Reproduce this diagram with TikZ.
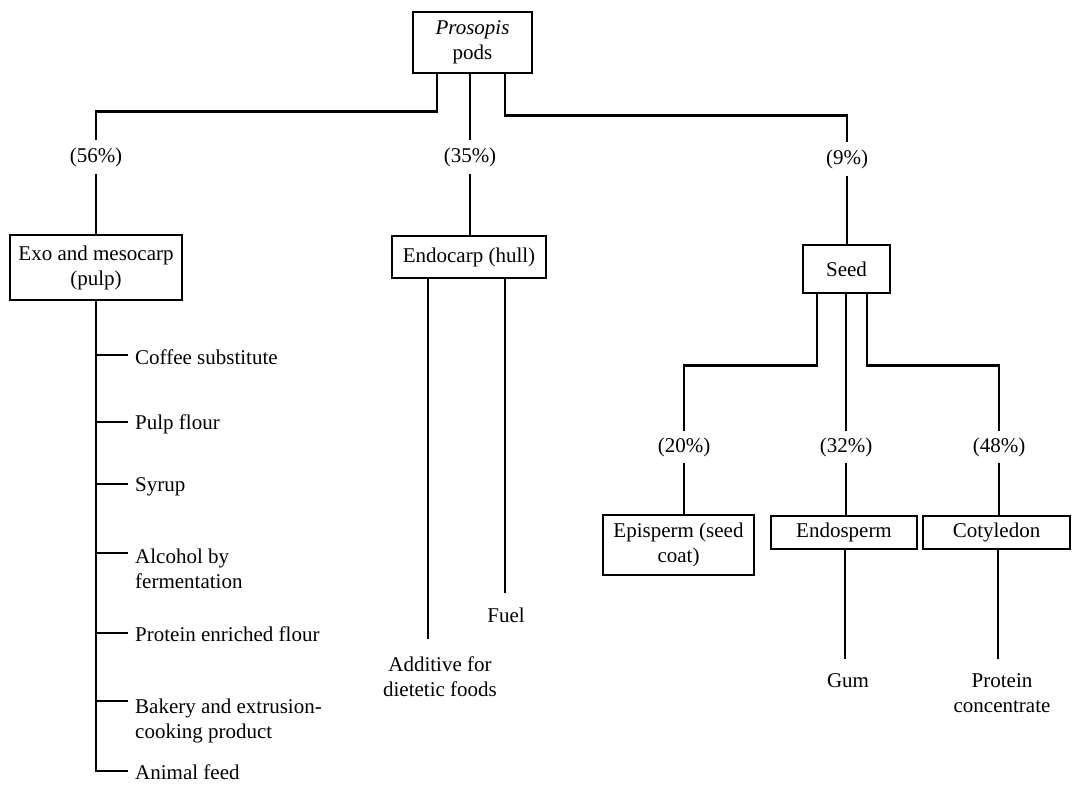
\documentclass[tikz,border=0pt]{standalone}
\usepackage{fontspec}
\setmainfont{Liberation Serif}
\begin{document}
\begin{tikzpicture}[x=1pt,y=-1pt,
  every node/.style={font=\fontsize{21}{25}\selectfont},
  box/.style={draw,line width=2.8pt,inner sep=0pt,align=center},
  link/.style={line width=2.5pt},
  pct/.style={inner xsep=1pt,inner ysep=7pt},
  item/.style={inner sep=0pt,align=left},
  leaf/.style={inner sep=0pt,align=center}]
\useasboundingbox (0,0) rectangle (1072,785);

% boxes
\node[box,minimum width=119pt,minimum height=61pt] (pods) at (472.5,42.5) {\textit{Prosopis}\\pods};
\node[box,minimum width=172pt,minimum height=65pt] (exo) at (96,267.5) {Exo and mesocarp\\(pulp)};
\node[box,minimum width=154pt,minimum height=42pt] (endo) at (469,257) {Endocarp (hull)};
\node[box,minimum width=87pt,minimum height=48pt] (seed) at (846.5,269) {Seed};
\node[box,minimum width=151pt,minimum height=60pt] (epi) at (678.5,545) {Episperm (seed\\coat)};
\node[box,minimum width=146pt,minimum height=33pt] (endosp) at (844,532.5) {Endosperm};
\node[box,minimum width=147pt,minimum height=33pt] (coty) at (996.5,532.5) {Cotyledon};

% percentage labels
\node[pct] (p56) at (96,157) {(56\%)};
\node[pct] (p35) at (470,157) {(35\%)};
\node[pct] (p9) at (847,159) {(9\%)};
\node[pct,inner ysep=6pt] (p20) at (684,447) {(20\%)};
\node[pct,inner ysep=6pt] (p32) at (846,447) {(32\%)};
\node[pct,inner ysep=6pt] (p48) at (999,447) {(48\%)};

% top connectors
\draw[link] ([xshift=-35.5pt]pods.south) -- ++(0,37) -| (p56.north);
\draw[link] (pods.south -| p35.north) -- (p35.north);
\draw[link] ([xshift=32.5pt]pods.south) -- ++(0,41) -| (p9.north);
\draw[link] (p56.south) -- (p56.south |- exo.north);
\draw[link] (p35.south) -- (p35.south |- endo.north);
\draw[link] (p9.south) -- (p9.south |- seed.north);

% pulp products
\node[item,anchor=base west] (coffee) at (135,364) {Coffee substitute};
\node[item,anchor=base west] (pulp) at (135,429) {Pulp flour};
\node[item,anchor=base west] (syrup) at (135,491) {Syrup};
\node[item,anchor=north west] (alc) at (135,549) {Alcohol by\\fermentation};
\node[item,anchor=base west] (pef) at (135,641) {Protein enriched flour};
\node[item,anchor=north west] (bak) at (135,699) {Bakery and extrusion-\\cooking product};
\node[item,anchor=base west] (feed) at (135,779) {Animal feed};

\draw[link] (exo.south) |- ([shift={(-7pt,8pt)}]feed.base west);
\draw[link] ([shift={(-7pt,9pt)}]coffee.base west) -- ++(-33,0);
\draw[link] ([shift={(-7pt,7pt)}]pulp.base west) -- ++(-33,0);
\draw[link] ([shift={(-7pt,7pt)}]syrup.base west) -- ++(-33,0);
\draw[link] ([shift={(-7pt,-4pt)}]alc.north west) -- ++(-33,0);
\draw[link] ([shift={(-7pt,8pt)}]pef.base west) -- ++(-33,0);
\draw[link] ([shift={(-7pt,-2pt)}]bak.north west) -- ++(-33,0);

% endocarp products
\coordinate (addend) at (428,639);
\coordinate (fuelend) at (505,593);
\draw[link] (endo.south -| addend) -- (addend);
\draw[link] (endo.south -| fuelend) -- (fuelend);
\node[leaf,anchor=north] (add) at (440,657) {Additive for\\dietetic foods};
\node[leaf,anchor=base] (fuel) at (506,622) {Fuel};

% seed parts
\draw[link] ([xshift=-29.5pt]seed.south) -- ++(0,71) -| (p20.north);
\draw[link] (seed.south -| p32.north) -- (p32.north);
\draw[link] ([xshift=20.5pt]seed.south) -- ++(0,71) -| (p48.north);
\draw[link] (p20.south) -- (p20.south |- epi.north);
\draw[link] (p32.south) -- (p32.south |- endosp.north);
\draw[link] (p48.south) -- (p48.south |- coty.north);

% seed products
\coordinate (gumend) at (845,659);
\coordinate (protend) at (998,659);
\draw[link] (endosp.south -| gumend) -- (gumend);
\draw[link] (coty.south -| protend) -- (protend);
\node[leaf,anchor=base] (gum) at (848,687) {Gum};
\node[leaf,anchor=north] (prot) at (1002,673) {Protein\\concentrate};
\end{tikzpicture}
\end{document}
